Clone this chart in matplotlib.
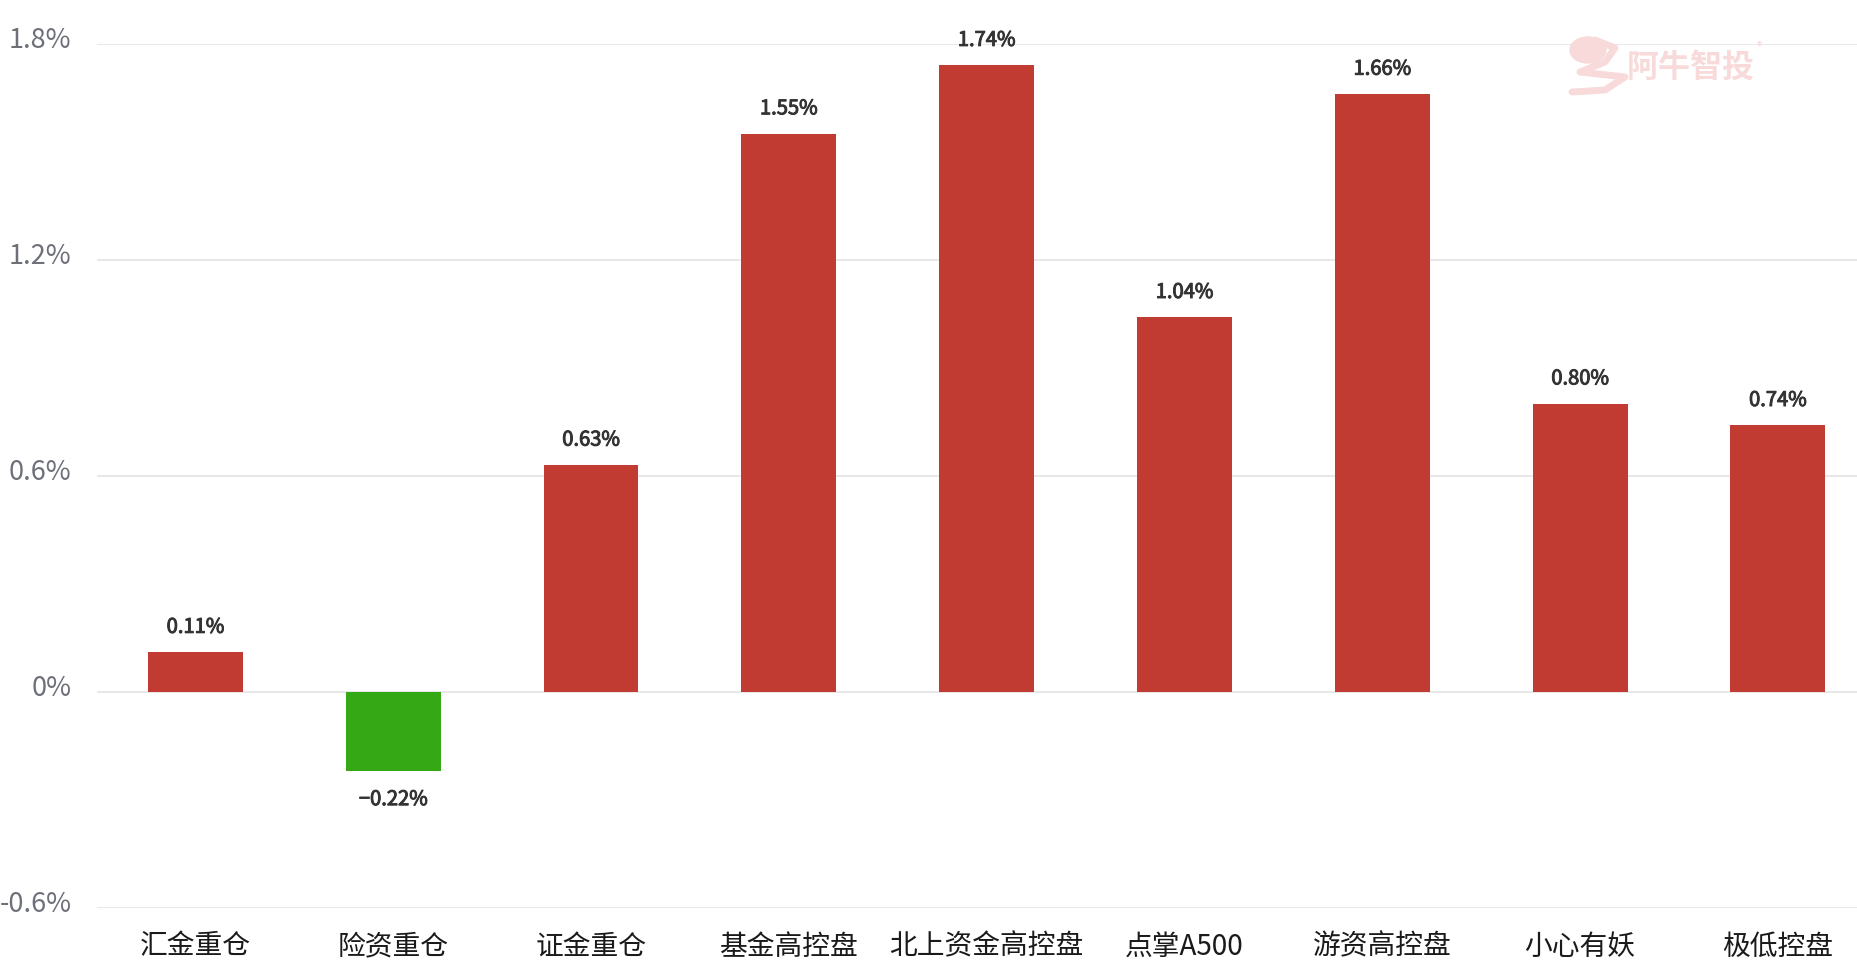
import matplotlib
matplotlib.use("Agg")
import matplotlib.pyplot as plt
import matplotlib.transforms as mtransforms
import matplotlib.patheffects as pe
from matplotlib.patches import Ellipse

plt.rcParams['font.family'] = ['Noto Sans CJK SC', 'DejaVu Sans']

categories = ["汇金重仓", "险资重仓", "证金重仓", "基金高控盘", "北上资金高控盘",
              "点掌A500", "游资高控盘", "小心有妖", "极低控盘"]
values = [0.11, -0.22, 0.63, 1.55, 1.74, 1.04, 1.66, 0.80, 0.74]
yticks = [-0.6, 0, 0.6, 1.2, 1.8]
ytick_labels = ["-0.6%", "0%", "0.6%", "1.2%", "1.8%"]

RED = "#c23b32"
GREEN = "#34a915"

W, H = 1857, 973
fig = plt.figure(figsize=(W / 100, H / 100), dpi=100)
left, right = 96.5 / W, 1.0
bottom, top = (H - 908) / H, (H - 43.8) / H
ax = fig.add_axes([left, bottom, right - left, top - bottom])

x = list(range(len(categories)))
colors = [RED if v >= 0 else GREEN for v in values]
ax.bar(x, values, width=0.48, color=colors, zorder=3)

ax.set_ylim(-0.6, 1.8)
ax.set_xlim(-0.5, 8.4)
ax.set_yticks(yticks)
ax.set_yticklabels(ytick_labels, color="#6e7079", fontsize=19.5)
ax.set_xticks(x)
ax.set_xticklabels(categories, fontsize=20, color="#1a1a1a")
ax.tick_params(axis='y', length=0, pad=18)
ax.tick_params(axis='x', length=0, pad=17)
ax.grid(axis='y', color="#e6e6e6", linewidth=1.3, zorder=0)
for s in ax.spines.values():
    s.set_visible(False)

shift = mtransforms.ScaledTranslation(0, 6 / 100, fig.dpi_scale_trans)
for lab in ax.get_yticklabels():
    lab.set_transform(lab.get_transform() + shift)

stroke = [pe.withStroke(linewidth=0.7, foreground="#333333")]
for xi, v in zip(x, values):
    if v >= 0:
        t = ax.annotate(f"{v:.2f}%", (xi, v), xytext=(0, 18), textcoords='offset points',
                        ha='center', va='center', fontsize=14.5, color="#333333")
    else:
        t = ax.annotate(f"−{abs(v):.2f}%", (xi, v), xytext=(0, -20.5), textcoords='offset points',
                        ha='center', va='center', fontsize=14.5, color="#333333")
    t.set_path_effects(stroke)

# watermark
wm = "#f8dada"
fig.text(1627 / W, 1 - 68 / H, "阿牛智投", fontsize=23, fontweight='bold', color=wm,
         ha='left', va='center')
fig.text(1757 / W, 1 - 47 / H, "®", fontsize=8, color=wm, ha='left', va='center')
fig.patches.append(Ellipse((1588 / W, 1 - 50 / H), 36 / W, 26 / H, transform=fig.transFigure,
                           color=wm, zorder=0))
fig.lines.append(plt.Line2D([1595 / W, 1615 / W, 1605 / W, 1580 / W, 1625 / W, 1605 / W, 1572 / W],
                            [1 - 40 / H, 1 - 48 / H, 1 - 62 / H, 1 - 72 / H, 1 - 77 / H, 1 - 90 / H, 1 - 92 / H],
                            transform=fig.transFigure, color=wm, linewidth=5, solid_capstyle='round'))

fig.savefig("out.png", dpi=100)
